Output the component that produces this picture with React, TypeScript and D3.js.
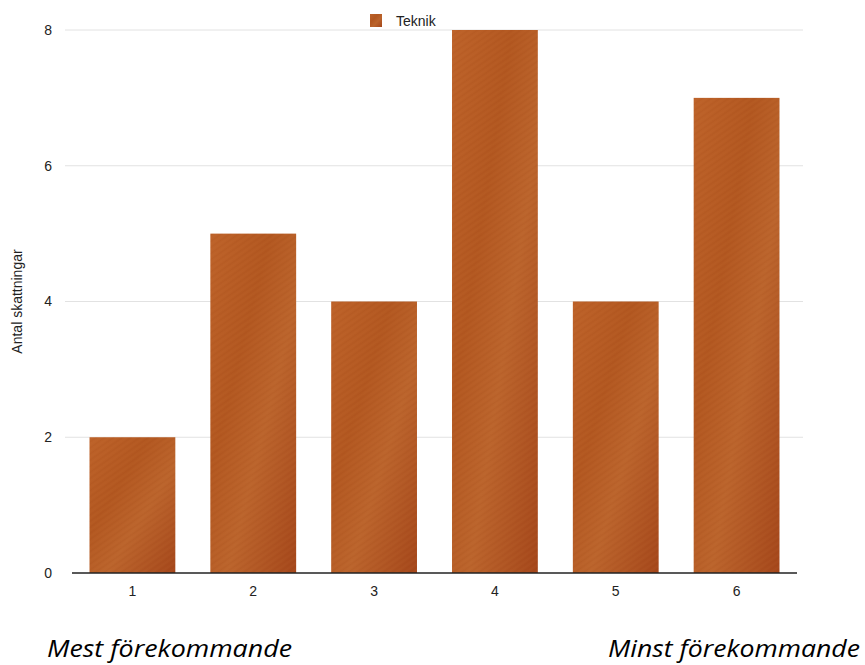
import React from "react";
import * as d3 from "d3";

const categories = ["1", "2", "3", "4", "5", "6"];
const values = [2, 5, 4, 8, 4, 7];
const yTicks = [0, 2, 4, 6, 8];
const seriesName = "Teknik";
const yTitle = "Antal skattningar";
const leftNote = "Mest förekommande";
const rightNote = "Minst förekommande";

const W = 865;
const H = 665;
const m = { left: 72, right: 68, top: 30, bottom: 92 };

export default function App() {
  const x = d3
    .scaleBand<string>()
    .domain(categories)
    .range([m.left, W - m.right])
    .paddingInner(0.29)
    .paddingOuter(0.145);
  const y = d3.scaleLinear().domain([0, 8]).range([H - m.bottom, m.top]);
  const font = "'Liberation Sans', Arial, sans-serif";
  return (
    <svg
      width={W}
      height={H}
      style={{ position: "absolute", left: 0, top: 0, background: "#fff" }}
    >
      <defs>
        <linearGradient id="wood" x1="0" y1="0" x2="1" y2="1">
          <stop offset="0" stopColor="#bd6229" />
          <stop offset="0.35" stopColor="#b25720" />
          <stop offset="0.6" stopColor="#bb642c" />
          <stop offset="1" stopColor="#a4461a" />
        </linearGradient>
        <pattern
          id="grain"
          width="5"
          height="5"
          patternUnits="userSpaceOnUse"
          patternTransform="rotate(-35)"
        >
          <line x1="0" y1="1" x2="5" y2="1" stroke="#d88a50" strokeOpacity="0.15" strokeWidth="0.7" />
          <line x1="0" y1="3.5" x2="5" y2="3.5" stroke="#8f3a12" strokeOpacity="0.1" strokeWidth="0.7" />
        </pattern>
      </defs>
      {yTicks
        .filter((t) => t > 0)
        .map((t) => (
          <line
            key={"g" + t}
            x1={m.left - 7}
            x2={W - m.right + 6}
            y1={y(t)}
            y2={y(t)}
            stroke="#e2e2e2"
            strokeWidth={1}
          />
        ))}
      {yTicks.map((t) => (
        <text
          key={"yt" + t}
          x={52}
          y={y(t)}
          dy="0.35em"
          textAnchor="end"
          fontFamily={font}
          fontSize={14}
          fill="#222"
        >
          {t}
        </text>
      ))}
      {values.map((v, i) => (
        <g key={"b" + i}>
          <rect
            x={x(categories[i])}
            y={y(v)}
            width={x.bandwidth()}
            height={y(0) - y(v)}
            fill="url(#wood)"
          />
          <rect
            x={x(categories[i])}
            y={y(v)}
            width={x.bandwidth()}
            height={y(0) - y(v)}
            fill="url(#grain)"
          />
        </g>
      ))}
      <line
        x1={m.left}
        x2={W - m.right}
        y1={y(0)}
        y2={y(0)}
        stroke="#222"
        strokeWidth={1.3}
      />
      {categories.map((c) => (
        <text
          key={"xt" + c}
          x={(x(c) as number) + x.bandwidth() / 2}
          y={y(0) + 18}
          dy="0.35em"
          textAnchor="middle"
          fontFamily={font}
          fontSize={14}
          fill="#222"
        >
          {c}
        </text>
      ))}
      <text
        transform={`translate(22, ${(y(0) + y(8)) / 2}) rotate(-90)`}
        textAnchor="middle"
        fontFamily={font}
        fontSize={14}
        fill="#222"
      >
        {yTitle}
      </text>
      <rect x={370} y={14} width={12} height={13} fill="url(#wood)" />
      <text x={396} y={26} fontFamily={font} fontSize={14} fill="#222">
        {seriesName}
      </text>
      <text
        x={47}
        y={657}
        fontFamily="'Open Sans', sans-serif"
        fontStyle="italic"
        fontSize={23}
        textLength={245}
        lengthAdjust="spacingAndGlyphs"
        fill="#000"
      >
        {leftNote}
      </text>
      <text
        x={608}
        y={657}
        fontFamily="'Open Sans', sans-serif"
        fontStyle="italic"
        fontSize={23}
        textLength={252}
        lengthAdjust="spacingAndGlyphs"
        fill="#000"
      >
        {rightNote}
      </text>
    </svg>
  );
}
